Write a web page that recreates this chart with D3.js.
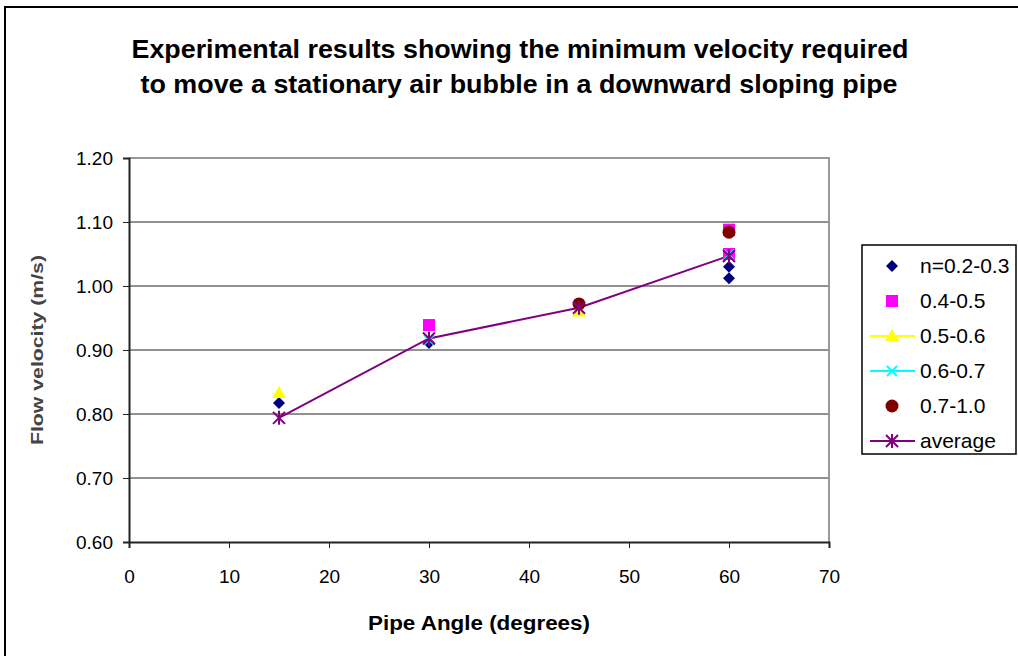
<!DOCTYPE html>
<html>
<head>
<meta charset="utf-8">
<script src="https://cdn.jsdelivr.net/npm/d3@7"></script>
<style>
  body { margin: 0; background: #fff; }
  text { font-family: Arial, "Liberation Sans", sans-serif; }
</style>
</head>
<body>
<script>
// chart data
var seriesNames = ["n=0.2-0.3", "0.4-0.5", "0.5-0.6", "0.6-0.7", "0.7-1.0", "average"];
var angles1 = [15, 30, 60, 60];
var values1 = [0.817, 0.911, 1.030, 1.012];
var angles2 = [30, 60, 60];
var values2 = [0.939, 1.088, 1.050];
var angles3 = [15, 45];
var values3 = [0.833, 0.960];
var angles4 = [30, 60];
var values4 = [0.916, 1.049];
var angles5 = [45, 60];
var values5 = [0.972, 1.084];
var anglesAvg = [15, 30, 45, 60];
var valuesAvg = [0.794, 0.918, 0.966, 1.047];
var xTicks = [0, 10, 20, 30, 40, 50, 60, 70];
var yTicks = [0.60, 0.70, 0.80, 0.90, 1.00, 1.10, 1.20];

var width = 1018, height = 656;
var pLeft = 129, pRight = 829, pTop = 158, pBottom = 542;

var svg = d3.select("body").append("svg")
    .attr("width", width)
    .attr("height", height);

// outer frame
svg.append("rect")
    .attr("x", 5).attr("y", 7)
    .attr("width", 1040).attr("height", 680)
    .style("fill", "white").style("stroke", "black").style("stroke-width", 2);

var x = d3.scaleLinear().domain([0, 70]).range([pLeft, pRight]);
var y = d3.scaleLinear().domain([0.6, 1.2]).range([pBottom, pTop]);

// gridlines
svg.append("g").selectAll("line")
    .data(yTicks.slice(1, -1))
    .enter().append("line")
    .attr("x1", pLeft).attr("x2", pRight)
    .attr("y1", function(d) { return y(d); })
    .attr("y2", function(d) { return y(d); })
    .style("stroke", "#222").style("stroke-width", 1);

// plot frame top/right in grey
svg.append("path")
    .attr("d", "M" + pLeft + "," + pTop + "H" + pRight + "V" + pBottom)
    .style("fill", "none").style("stroke", "#999").style("stroke-width", 2);

// axes
var yAxis = svg.append("g")
    .attr("transform", "translate(" + pLeft + ",0)")
    .call(d3.axisLeft(y).tickValues(yTicks).tickSize(6).tickPadding(10)
        .tickFormat(d3.format(".2f")));
var xAxis = svg.append("g")
    .attr("transform", "translate(0," + pBottom + ")")
    .call(d3.axisBottom(x).tickValues(xTicks).tickSize(6).tickPadding(22));

[xAxis, yAxis].forEach(function(a) {
  a.select(".domain").style("stroke", "#222").style("stroke-width", 2);
  a.selectAll(".tick line").style("stroke", "#222");
  a.selectAll(".tick text").style("font-size", "19px").style("fill", "black")
      .style("font-family", "Arial, 'Liberation Sans', sans-serif");
});
yAxis.selectAll(".tick text").attr("dy", "0.35em");

// titles
var title = svg.append("text")
    .attr("text-anchor", "middle")
    .style("font-size", "25px").style("font-weight", "bold");
title.append("tspan").attr("x", 520).attr("y", 58)
    .attr("textLength", 777).attr("lengthAdjust", "spacingAndGlyphs")
    .text("Experimental results showing the minimum velocity required");
title.append("tspan").attr("x", 519).attr("y", 93)
    .attr("textLength", 757).attr("lengthAdjust", "spacingAndGlyphs")
    .text("to move a stationary air bubble in a downward sloping pipe");

svg.append("text")
    .attr("x", 479).attr("y", 630)
    .attr("text-anchor", "middle")
    .attr("textLength", 222).attr("lengthAdjust", "spacingAndGlyphs")
    .style("font-size", "20px").style("font-weight", "bold")
    .text("Pipe Angle (degrees)");

svg.append("text")
    .attr("transform", "translate(43,350) rotate(-90)")
    .attr("text-anchor", "middle")
    .attr("textLength", 190).attr("lengthAdjust", "spacingAndGlyphs")
    .style("font-size", "17px").style("font-weight", "bold").style("fill", "#444")
    .text("Flow velocity (m/s)");

// marker shapes
function marker(g, type, cx, cy) {
  if (type === "diamond") {
    g.append("path").attr("d", "M" + cx + "," + (cy - 6) + "l6,6l-6,6l-6,-6z")
        .style("fill", "#000080");
  } else if (type === "square") {
    g.append("rect").attr("x", cx - 6).attr("y", cy - 6).attr("width", 12).attr("height", 12)
        .style("fill", "#FF00FF");
  } else if (type === "triangle") {
    g.append("path").attr("d", "M" + cx + "," + (cy - 7) + "l7,12h-14z")
        .style("fill", "#FFFF00");
  } else if (type === "cross") {
    g.append("path").attr("d", "M" + (cx - 5) + "," + (cy - 5) + "l10,10M" + (cx + 5) + "," + (cy - 5) + "l-10,10")
        .style("stroke", "#00FFFF").style("stroke-width", 2);
  } else if (type === "circle") {
    g.append("circle").attr("cx", cx).attr("cy", cy).attr("r", 6.5)
        .style("fill", "#800000");
  } else if (type === "star") {
    g.append("path").attr("d", "M" + (cx - 6) + "," + (cy - 6) + "l12,12M" + (cx + 6) + "," + (cy - 6) + "l-12,12M" + cx + "," + (cy - 7) + "v14")
        .style("stroke", "#800080").style("stroke-width", 2);
  }
}

// average line
var line = d3.line()
    .x(function(d) { return x(d[0]); })
    .y(function(d) { return y(d[1]); });
svg.append("path")
    .datum(d3.zip(anglesAvg, valuesAvg))
    .attr("d", line)
    .style("fill", "none").style("stroke", "#800080").style("stroke-width", 2);

var series = [
  { a: angles1, v: values1, m: "diamond" },
  { a: angles2, v: values2, m: "square" },
  { a: angles3, v: values3, m: "triangle" },
  { a: angles4, v: values4, m: "cross" },
  { a: angles5, v: values5, m: "circle" },
  { a: anglesAvg, v: valuesAvg, m: "star" }
];

var pts = svg.append("g");
series.forEach(function(s) {
  d3.zip(s.a, s.v).forEach(function(p) {
    marker(pts, s.m, x(p[0]), y(p[1]));
  });
});

// legend
var lg = svg.append("g");
lg.append("rect")
    .attr("x", 862).attr("y", 245).attr("width", 154).attr("height", 209)
    .style("fill", "white").style("stroke", "black").style("stroke-width", 1.5);
var lineColors = [null, null, "#FFFF00", "#00FFFF", null, "#800080"];
series.forEach(function(s, i) {
  var cy = 266 + i * 35;
  if (lineColors[i]) {
    lg.append("line").attr("x1", 870).attr("x2", 915).attr("y1", cy).attr("y2", cy)
        .style("stroke", lineColors[i]).style("stroke-width", 2);
  }
  marker(lg, s.m, 892, cy);
  lg.append("text").attr("x", 920).attr("y", cy).attr("dy", "0.35em")
      .style("font-size", "21px").text(seriesNames[i]);
});
</script>
</body>
</html>
